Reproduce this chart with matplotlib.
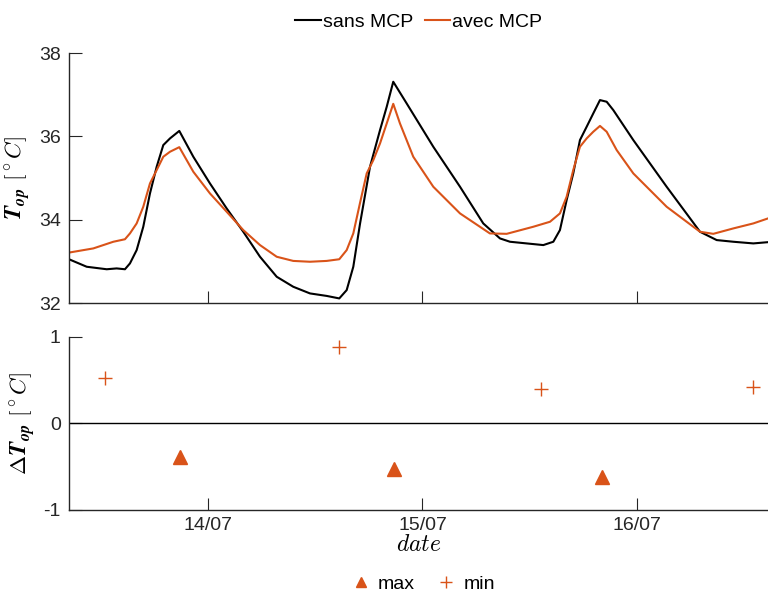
import matplotlib
matplotlib.use("Agg")
import matplotlib.pyplot as plt
import matplotlib.dates as mdates
from datetime import datetime, timedelta

plt.rcParams['font.family'] = ['Liberation Sans', 'DejaVu Sans']
plt.rcParams['mathtext.fontset'] = 'cm'

# ---- data (hours from 13/07 00:00) ----
t_sans = [8.45, 10.43, 12.67, 13.78, 14.71, 15.27, 16.02, 16.76, 17.51, 18.26, 19.0, 19.75,
          20.79, 22.36, 24.22, 26.09, 27.95, 29.82, 31.69, 33.54, 35.41, 37.28, 38.69, 39.52,
          40.26, 41.01, 42.13, 43.25, 44.0, 44.73, 46.23, 49.21, 52.2, 54.8, 56.67, 57.79,
          61.52, 62.64, 63.38, 64.13, 64.87, 65.62, 66.37, 67.11, 67.86, 68.61, 69.35, 71.59,
          75.32, 79.05, 80.92, 82.78, 85.02, 86.66]
T_sans = [33.05, 32.87, 32.81, 32.83, 32.81, 32.95, 33.27, 33.83, 34.63, 35.27, 35.79, 35.95,
          36.13, 35.51, 34.87, 34.27, 33.71, 33.11, 32.63, 32.39, 32.23, 32.17, 32.11, 32.31,
          32.87, 33.90, 35.27, 36.15, 36.71, 37.31, 36.79, 35.75, 34.79, 33.91, 33.55, 33.47,
          33.39, 33.47, 33.75, 34.47, 35.11, 35.91, 36.23, 36.55, 36.87, 36.83, 36.63, 35.91,
          34.79, 33.71, 33.51, 33.47, 33.43, 33.46]

t_avec = [8.45, 11.17, 13.41, 14.71, 15.27, 16.02, 16.76, 17.51, 18.26, 19.0, 19.75, 20.79,
          22.36, 24.22, 26.09, 27.95, 29.82, 31.69, 33.54, 35.41, 37.28, 38.69, 39.52, 40.26,
          41.01, 41.76, 42.5, 43.25, 44.0, 44.73, 45.48, 46.97, 49.21, 52.2, 55.54, 57.42,
          60.4, 62.27, 63.38, 64.13, 64.87, 65.62, 66.37, 67.11, 67.86, 68.61, 69.73, 71.59,
          75.32, 79.05, 80.54, 82.78, 85.02, 86.66]
T_avec = [33.21, 33.31, 33.47, 33.53, 33.67, 33.91, 34.31, 34.87, 35.19, 35.51, 35.63, 35.74,
          35.15, 34.63, 34.19, 33.75, 33.39, 33.11, 33.01, 32.99, 33.01, 33.05, 33.27, 33.67,
          34.40, 35.11, 35.43, 35.83, 36.31, 36.78, 36.31, 35.51, 34.79, 34.15, 33.67, 33.66,
          33.83, 33.95, 34.15, 34.55, 35.19, 35.75, 35.95, 36.11, 36.25, 36.11, 35.67, 35.11,
          34.31, 33.71, 33.66, 33.79, 33.91, 34.03]

t_max = [20.87, 44.81, 68.05]
dT_max = [-0.39, -0.53, -0.62]
t_min = [12.51, 38.69, 61.26, 84.95]
dT_min = [0.53, 0.88, 0.40, 0.42]

x_range = [8.45, 86.66]
yticks_top = [32, 34, 36, 38]
yticks_bot = [-1, 0, 1]
base = datetime(2019, 7, 13)

def to_dt(hours):
    return [base + timedelta(hours=h) for h in hours]

ORANGE = '#D95319'
AXC = '#262626'
FS = 14

fig = plt.figure(figsize=(7.68, 5.95), dpi=100)
ax1 = fig.add_axes([69/768, 1-303/595, 1-69/768, (303-53)/595])
ax2 = fig.add_axes([69/768, 1-510/595, 1-69/768, (510-337)/595])

l1, = ax1.plot(to_dt(t_sans), T_sans, color='black', lw=1.5, label='sans MCP')
l2, = ax1.plot(to_dt(t_avec), T_avec, color=ORANGE, lw=1.5, label='avec MCP')

ax2.axhline(0, color='black', lw=1.0)
m1, = ax2.plot(to_dt(t_max), dT_max, linestyle='none', marker='^', color=ORANGE,
               markersize=9.5, label='max')
m2, = ax2.plot(to_dt(t_min), dT_min, linestyle='none', marker='+', color=ORANGE,
               markeredgecolor=ORANGE, markersize=10, mew=1.0, label='min')

xl = to_dt(x_range)
for ax in (ax1, ax2):
    ax.set_xlim(xl[0], xl[1])
    ax.spines['top'].set_visible(False)
    ax.spines['right'].set_visible(False)
    for s in ('left', 'bottom'):
        ax.spines[s].set_color(AXC)
        ax.spines[s].set_linewidth(1.0)
    ax.xaxis.set_major_locator(mdates.DayLocator())
    ax.xaxis.set_major_formatter(mdates.DateFormatter('%d/%m'))
    ax.tick_params(direction='in', length=9, width=0.8, color=AXC, labelcolor=AXC,
                   labelsize=FS, pad=6)

ax1.set_ylim(32, 38)
ax1.set_yticks(yticks_top)
ax1.tick_params(axis='x', labelbottom=False)
ax2.set_ylim(-1, 1)
ax2.set_yticks(yticks_bot)
ax2.set_yticklabels([str(v) for v in yticks_bot])
ax2.tick_params(axis='x', pad=5)

ax1.set_ylabel(r'$\mathbfit{T}_{\mathbfit{op}}\ [^\circ C]$', fontsize=16.5, labelpad=4)
ax2.set_ylabel(r'$\mathbf{\Delta}\mathbfit{T}_{\mathbfit{op}}\ [^\circ C]$', fontsize=16.5, labelpad=4)
ax2.set_xlabel(r'$date$', fontsize=17, labelpad=0)

fig.legend(handles=[l1, l2], loc='center', bbox_to_anchor=(0.545, 0.963), ncol=2,
           frameon=False, fontsize=FS, handlelength=1.3, handletextpad=0.1,
           columnspacing=0.6, borderpad=0)
fig.legend(handles=[m1, m2], loc='center', bbox_to_anchor=(0.552, 0.018), ncol=2,
           frameon=False, fontsize=FS, handlelength=0.8, handletextpad=0.5,
           columnspacing=1.2, borderpad=0, markerscale=0.8)

fig.savefig('out.png', dpi=100)
